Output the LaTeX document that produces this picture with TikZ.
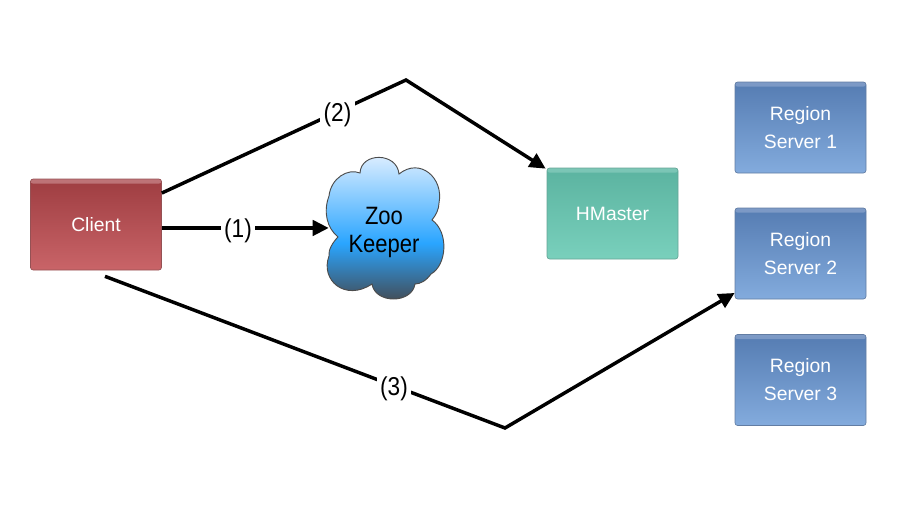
\documentclass[tikz,border=0pt]{standalone}
\usepackage{fontspec}
\setmainfont{Liberation Sans}
\usetikzlibrary{arrows.meta,calc}
\definecolor{redT}{HTML}{9E3D41}
\definecolor{redB}{HTML}{C96468}
\definecolor{redH}{HTML}{BE7478}
\definecolor{tealT}{HTML}{5BB3A0}
\definecolor{tealB}{HTML}{79D0BC}
\definecolor{tealH}{HTML}{7CC6B6}
\definecolor{blueT}{HTML}{557CB2}
\definecolor{blueB}{HTML}{83ABDD}
\definecolor{blueH}{HTML}{7D9AC6}
\definecolor{cloudT}{HTML}{E2F0FF}
\definecolor{cloudM}{HTML}{2AA5FF}
\definecolor{cloudB}{HTML}{44484E}
\pgfdeclareverticalshading{cloudshade}{100bp}{color(0bp)=(cloudB); color(25bp)=(cloudB); color(45bp)=(cloudM); color(75bp)=(cloudT); color(100bp)=(cloudT)}
\tikzset{
  boxnode/.style n args={3}{rounded corners=2pt,minimum width=98.25pt,minimum height=68.25pt,inner sep=0pt,align=center,text=white,
    font=\fontsize{14.5}{21}\selectfont,draw=#1!70!gray,line width=.5pt,top color=#1,bottom color=#2,
    path picture={\shade[top color=#3,bottom color=#1] (path picture bounding box.north west) rectangle ([yshift=-3.5pt]path picture bounding box.north east);}},
  clientbox/.style={boxnode={redT}{redB}{redH}},
  masterbox/.style={boxnode={tealT}{tealB}{tealH}},
  regionbox/.style={boxnode={blueT}{blueB}{blueH}},
  conn/.style={line width=2.6pt,black,line join=miter},
  arrowconn/.style={conn,-{Triangle[length=12pt,width=11.5pt]}},
  lab/.style={fill=white,inner sep=2.5pt,font=\fontsize{17}{20}\selectfont},
  cloudtext/.style={minimum width=82.5pt,inner sep=0pt,align=center,font=\fontsize{16.5}{21}\selectfont},
  cloudshape/.style={draw=black!70,line width=.7pt,shading=cloudshade},
}
\newcommand{\tall}[1]{\scalebox{1}[1.14]{#1}}
\begin{document}
\begin{tikzpicture}[x=0.75pt,y=-0.75pt]
\useasboundingbox (0,0) rectangle (897,507);
\node[clientbox] (client) at (96,224.5) {Client};
\node[masterbox] (master) at (612.5,213.5) {HMaster};
\node[regionbox] (r1) at (800.5,127.5) {\raisebox{-.6pt}{Region}\\\raisebox{-.6pt}{Server 1}};
\node[regionbox] (r2) at (800.5,253.5) {\raisebox{-1.2pt}{Region}\\\raisebox{-1.2pt}{Server 2}};
\node[regionbox] (r3) at (800.5,380) {\raisebox{-2pt}{Region}\\\raisebox{-2pt}{Server 3}};
\path[cloudshape]
 (360,173) .. controls (361,152) and (397,152) .. (399,174)
 .. controls (420,157) and (444,178) .. (439,203)
 .. controls (439,209) and (436,215) .. (432,220)
 .. controls (449,232) and (447,265) .. (431,274)
 .. controls (426,281) and (420,284) .. (415,284)
 .. controls (412,304) and (375,304) .. (372,284)
 .. controls (345,302) and (320,280) .. (329,256)
 .. controls (328,250) and (333,242) .. (338,237)
 .. controls (327,228) and (323,212) .. (329,196)
 .. controls (331,178) and (348,168) .. (360,173) -- cycle;
\node[cloudtext] (zk) at (384,232) {\tall{Zoo}\\\tall{Keeper}};
\coordinate (c1) at ([yshift=-2.6pt]client.east);
\draw[arrowconn] ([yshift=23.6pt]client.east) -- (406,80) -- ([shift={(-1,1)}]master.north west);
\draw[arrowconn] (c1) -- (c1 -| zk.west);
\draw[arrowconn] ([shift={(9,6)}]client.south) -- (505,428) -- ([yshift=-29.6pt]r2.west);
\node[lab] (l2) at (337.5,114.5) {\tall{(2)}};
\node[lab] (l1) at (238,231) {\tall{(1)}};
\node[lab] (l3) at (394,389) {\tall{(3)}};
\end{tikzpicture}
\end{document}
